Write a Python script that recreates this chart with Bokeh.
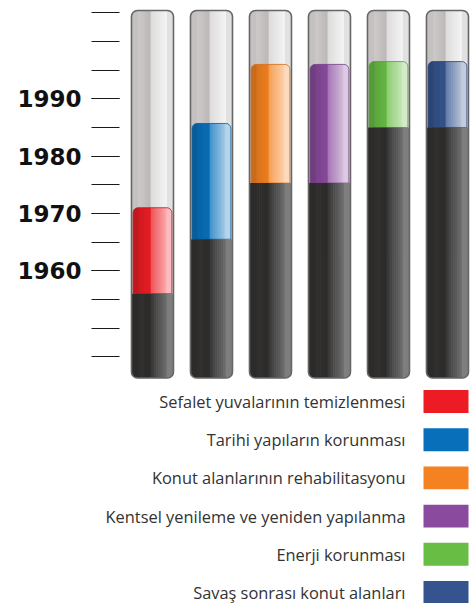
import numpy as np
from bokeh.plotting import figure
from bokeh.models import Range1d, FixedTicker
from bokeh.layouts import column, row
from bokeh.embed import file_html
from bokeh.resources import INLINE
from bokeh.core.properties import value

# ---------------- data ----------------
categories = [
    "Sefalet yuvalarının temizlenmesi",
    "Tarihi yapıların korunması",
    "Konut alanlarının rehabilitasyonu",
    "Kentsel yenileme ve yeniden yapılanma",
    "Enerji korunması",
    "Savaş sonrası konut alanları",
]
start_years = [1956.0, 1965.5, 1975.3, 1975.3, 1985.0, 1985.0]
end_years = [1971.0, 1985.7, 1996.0, 1996.0, 1996.5, 1996.5]
colors = ["#ed1c24", "#0870bb", "#f58220", "#8a4b9e", "#68bd45", "#35548f"]
label_years = [1960, 1970, 1980, 1990]
tick_years = [1945, 1950, 1955, 1960, 1965, 1970, 1975, 1980, 1985, 1990, 1995, 2000, 2005]

# ---------------- style ----------------
TUBE_BOTTOM = 1941.3
TUBE_TOP = 2005.4
PX_PER_UNIT = 59.0
TUBE_W_PX = 42.0
INSET_PX = 1.6
R_TUBE = 6
R_COLOR = 5
N_INNER = 16
OVERLAP = 0.6 / PX_PER_UNIT
Y_RANGE = (1939.47, 2007.15)


def hex2rgb(h):
    h = h.lstrip("#")
    return np.array([int(h[i:i + 2], 16) for i in (0, 2, 4)], dtype=float)


def rgb2hex(c):
    c = np.clip(np.round(c), 0, 255).astype(int)
    return "#%02x%02x%02x" % tuple(c)


def mix(c, other, f):
    return rgb2hex(hex2rgb(c) * (1 - f) + hex2rgb(other) * f)


def interp(stops, t):
    for (t0, c0), (t1, c1) in zip(stops[:-1], stops[1:]):
        if t0 <= t <= t1:
            f = 0 if t1 == t0 else (t - t0) / (t1 - t0)
            return rgb2hex(hex2rgb(c0) * (1 - f) + hex2rgb(c1) * f)
    return stops[-1][1]


glass_stops = [(0.0, "#a9a5a5"), (0.10, "#d0cccc"), (0.44, "#bdb9b9"),
               (0.45, "#dcdada"), (0.85, "#f5f5f5"), (1.0, "#cfcfcf")]
dark_stops = [(0.0, "#232221"), (0.10, "#2f2e2d"), (0.44, "#2d2c2b"),
              (0.45, "#343434"), (0.92, "#7c7c7c"), (1.0, "#8c8c8c")]


def color_stops(c):
    return [(0.0, mix(c, "#000000", 0.25)), (0.12, mix(c, "#000000", 0.12)),
            (0.44, mix(c, "#000000", 0.04)), (0.45, mix(c, "#ffffff", 0.22)),
            (0.95, mix(c, "#ffffff", 0.72)), (1.0, mix(c, "#ffffff", 0.6))]


common = dict(toolbar_location=None, output_backend="svg",
              min_border_right=0, min_border_top=0, min_border_bottom=0,
              outline_line_color=None, background_fill_color=None,
              border_fill_color=None)

# ---------------- axis strip (year scale) ----------------
a = figure(width=120, height=388, x_range=Range1d(0, 1),
           y_range=Range1d(*Y_RANGE), x_axis_location=None,
           min_border_left=119, **common)
a.grid.visible = False
ax = a.yaxis[0]
ax.ticker = FixedTicker(ticks=label_years, minor_ticks=tick_years)
ax.axis_line_color = None
ax.major_tick_out = 28
ax.major_tick_in = 0
ax.minor_tick_out = 28
ax.minor_tick_in = 0
ax.major_tick_line_color = "#1a1a1a"
ax.minor_tick_line_color = "#1a1a1a"
ax.major_tick_line_width = 1.2
ax.minor_tick_line_width = 1.2
ax.major_label_standoff = 10
ax.major_label_text_font = "DejaVu Sans"
ax.major_label_text_font_style = "bold"
ax.major_label_text_font_size = "23px"
ax.major_label_text_color = "#111111"

# ---------------- tubes ----------------
x_centers = list(range(len(categories)))
p = figure(width=355, height=388, x_range=Range1d(-0.542, 5.475),
           y_range=Range1d(*Y_RANGE), x_axis_location=None,
           y_axis_location=None, min_border_left=0, **common)
p.grid.visible = False


def add_segment(bottoms, tops, inset_px, stops_list, r_left, r_right):
    half = (TUBE_W_PX / 2 - inset_px) / PX_PER_UNIT
    width_px = TUBE_W_PX - 2 * inset_px
    r_px = max(max(r_left), max(r_right))
    r_u = r_px / PX_PER_UNIT
    L = dict(left=[], right=[], bottom=[], top=[], fill_color=[])
    R = dict(left=[], right=[], bottom=[], top=[], fill_color=[])
    M = dict(left=[], right=[], bottom=[], top=[], fill_color=[])
    for xc, b, t, stops in zip(x_centers, bottoms, tops, stops_list):
        x0, x1 = xc - half, xc + half
        L["left"].append(x0); L["right"].append(x0 + r_u + OVERLAP)
        L["bottom"].append(b); L["top"].append(t)
        L["fill_color"].append(interp(stops, (r_px * 0.5) / width_px))
        R["left"].append(x1 - r_u - OVERLAP); R["right"].append(x1)
        R["bottom"].append(b); R["top"].append(t)
        R["fill_color"].append(interp(stops, 1 - (r_px * 0.5) / width_px))
        edges = np.linspace(x0 + r_u, x1 - r_u, N_INNER + 1)
        for e0, e1 in zip(edges[:-1], edges[1:]):
            M["left"].append(float(e0)); M["right"].append(float(e1 + OVERLAP))
            M["bottom"].append(b); M["top"].append(t)
            tc = ((e0 + e1) / 2 - x0) / (x1 - x0)
            M["fill_color"].append(interp(stops, tc))
    p.quad(line_color=None, **M)
    p.quad(line_color=None, border_radius=r_left, **L)
    p.quad(line_color=None, border_radius=r_right, **R)


n = len(categories)
add_segment([TUBE_BOTTOM] * n, [TUBE_TOP] * n, 0, [glass_stops] * n,
            (R_TUBE, 0, 0, R_TUBE), (0, R_TUBE, R_TUBE, 0))
add_segment(start_years, end_years, INSET_PX, [color_stops(c) for c in colors],
            (R_COLOR, 0, 0, 0), (0, R_COLOR, 0, 0))
ch = (TUBE_W_PX / 2 - INSET_PX) / PX_PER_UNIT
p.quad(left=[x - ch for x in x_centers], right=[x + ch for x in x_centers],
       bottom=start_years, top=end_years, fill_color=None,
       line_color=[mix(c, "#000000", 0.15) for c in colors], line_width=1,
       line_alpha=0.8, border_radius=(R_COLOR, R_COLOR, 0, 0))
add_segment([TUBE_BOTTOM] * n, start_years, 0, [dark_stops] * n,
            (0, 0, 0, R_TUBE), (0, 0, R_TUBE, 0))
th = (TUBE_W_PX / 2) / PX_PER_UNIT
p.quad(left=[x - th for x in x_centers], right=[x + th for x in x_centers],
       bottom=[TUBE_BOTTOM] * n, top=[TUBE_TOP] * n, fill_color=None,
       line_color="#666666", line_width=1.6, border_radius=R_TUBE)

# ---------------- legend ----------------
rows = list(range(n))
q = figure(width=475, height=215, x_range=Range1d(0, 475),
           y_range=Range1d(5.288, -0.340), x_axis_location=None,
           y_axis_location=None, min_border_left=0, **common)
q.grid.visible = False
q.text(x=[405] * n, y=rows, text=categories, text_align="right",
       text_baseline="middle", text_font=value("Open Sans"),
       text_font_size="16.4px", text_color="#333333")
q.quad(left=[423] * n, right=[468] * n, bottom=[r + 0.30 for r in rows],
       top=[r - 0.30 for r in rows], fill_color=colors, line_color=None)

layout = column(row(a, p, spacing=0), q, spacing=0)
open("out.html", "w").write(file_html(layout, INLINE))
